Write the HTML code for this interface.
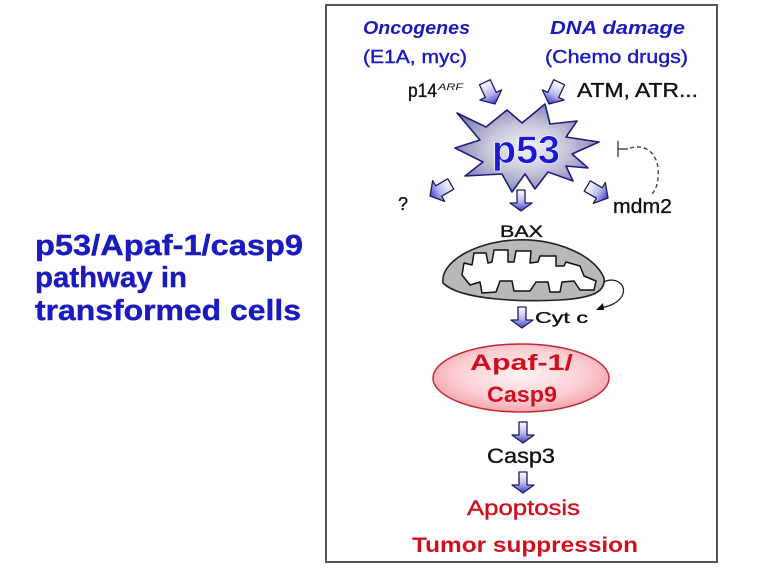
<!DOCTYPE html>
<html><head><meta charset="utf-8"><style>
html,body{margin:0;padding:0;background:#fff;}
svg{display:block;}
text{font-family:"Liberation Sans",sans-serif;}
</style></head><body>
<svg width="768" height="576" viewBox="0 0 768 576" xmlns="http://www.w3.org/2000/svg">
<defs>
<linearGradient id="ag" x1="0" y1="0" x2="0" y2="1">
<stop offset="0" stop-color="#ffffff"/><stop offset="0.55" stop-color="#b8b8ee"/><stop offset="1" stop-color="#3c3cc8"/>
</linearGradient>
<radialGradient id="sg" cx="0.5" cy="0.5" r="0.6">
<stop offset="0" stop-color="#f4f4fa"/><stop offset="0.45" stop-color="#c8c8dc"/><stop offset="1" stop-color="#7070a8"/>
</radialGradient>
<radialGradient id="eg" cx="0.5" cy="0.45" r="0.6">
<stop offset="0" stop-color="#fff2f2"/><stop offset="0.6" stop-color="#fbd0d4"/><stop offset="1" stop-color="#f29aa4"/>
</radialGradient>
<path id="da" d="M-4,-21 L4,-21 L4,-8 L11,-8 L0,0 L-11,-8 L-4,-8 Z"/>
<path id="ba" d="M-6,-24 L6,-24 L6,-10 L12,-10 L0,0 L-12,-10 L-6,-10 Z"/>
</defs>

<!-- left title -->
<g fill="#1a1abf" font-weight="bold" font-size="29" stroke="#1a1abf" stroke-width="0.4">
<text x="35" y="255" textLength="268" lengthAdjust="spacingAndGlyphs">p53/Apaf-1/casp9</text>
<text x="35" y="287" textLength="152" lengthAdjust="spacingAndGlyphs">pathway in</text>
<text x="35" y="320" textLength="266" lengthAdjust="spacingAndGlyphs">transformed cells</text>
</g>

<!-- box -->
<rect x="326" y="5" width="391" height="557" fill="#fff" stroke="#555" stroke-width="2"/>

<!-- top labels -->
<g fill="#1a1abf" font-size="18">
<text x="363" y="34" font-weight="bold" font-style="italic" textLength="107" lengthAdjust="spacingAndGlyphs">Oncogenes</text>
<text x="363" y="63" stroke="#1a1abf" stroke-width="0.4" textLength="104" lengthAdjust="spacingAndGlyphs">(E1A, myc)</text>
<text x="550" y="34" font-weight="bold" font-style="italic" textLength="135" lengthAdjust="spacingAndGlyphs">DNA damage</text>
<text x="545" y="63" stroke="#1a1abf" stroke-width="0.4" textLength="143" lengthAdjust="spacingAndGlyphs">(Chemo drugs)</text>
</g>
<g fill="#111" stroke="#111" stroke-width="0.35">
<text x="408" y="97" font-size="19" textLength="29" lengthAdjust="spacingAndGlyphs">p14</text>
<text x="438" y="90" font-size="9" stroke-width="0" font-style="italic" textLength="25" lengthAdjust="spacingAndGlyphs">ARF</text>
<text x="577" y="97" font-size="20" textLength="121" lengthAdjust="spacingAndGlyphs">ATM, ATR...</text>
<text x="398" y="210" font-size="18">?</text>
<text x="613" y="213" font-size="20" textLength="59" lengthAdjust="spacingAndGlyphs">mdm2</text>
<text x="500" y="237" font-size="17" textLength="43" lengthAdjust="spacingAndGlyphs">BAX</text>
<text x="535" y="323" font-size="16" textLength="53" lengthAdjust="spacingAndGlyphs">Cyt c</text>
<text x="487" y="463" font-size="21" textLength="68" lengthAdjust="spacingAndGlyphs">Casp3</text>
</g>

<!-- input arrows -->
<g fill="url(#ag)" stroke="#1c1c5c" stroke-width="1.3" stroke-linejoin="round">
<use href="#ba" transform="translate(495,104) rotate(-25)"/>
<use href="#ba" transform="translate(549,104) rotate(25)"/>
</g>

<!-- star -->
<path d="M457,113 L486,127 L507,110 L522,123 L545,104 L550,124 L577,121 L566,137 L599,142 L572,154 L588,168 L566,166 L573,181 L548,172 L535,189 L525,174 L512,192 L502,174 L465,176 L483,162 L455,148 L480,140 Z" fill="url(#sg)" stroke="#1e1e80" stroke-width="1.6" stroke-linejoin="round"/>
<text x="526" y="163" font-size="39" font-weight="bold" fill="#1a1ad0" stroke="#ffffff" stroke-width="0.6" text-anchor="middle" textLength="68" lengthAdjust="spacingAndGlyphs">p53</text>

<!-- output arrows -->
<g fill="url(#ag)" stroke="#1c1c5c" stroke-width="1.3" stroke-linejoin="round">
<use href="#ba" transform="translate(430,196) rotate(60)"/>
<use href="#ba" transform="translate(608,198) rotate(-60)"/>
<use href="#da" transform="translate(521,211)"/>
<use href="#da" transform="translate(522,328)"/>
<use href="#da" transform="translate(523,443)"/>
<use href="#da" transform="translate(523,493)"/>
</g>

<!-- inhibition -->
<g stroke="#444" stroke-width="1.4" fill="none">
<line x1="618" y1="141" x2="618" y2="157"/>
<line x1="618" y1="149" x2="628" y2="149"/>
<path d="M630,148 C645,144 656,152 658,168 C659,180 657,188 652,194" stroke-dasharray="4,3"/>
</g>

<!-- mitochondrion -->
<path d="M443,283 C440,262 475,242 515,240 C555,238 595,255 604,278 C606,293 590,298 560,300 C520,302 460,300 443,283 Z" fill="#b8b8b8" stroke="#222" stroke-width="1.6"/>
<path d="M462,275 L464,263 L472,265 L474,253 L486,253 L488,263 L492,262 L494,250 L508,250 L508,262 L514,262 L516,251 L531,251 L530,263 L538,262 L540,256 L556,256 L556,266 L564,266 L566,262 L580,266 L584,276 L596,281 L594,290 L580,290 L574,281 L562,282 L560,292 L550,292 L548,282 L536,282 L530,291 L514,291 L512,281 L500,281 L496,292 L482,293 L480,282 L470,285 Z" fill="#fff" stroke="#111" stroke-width="1.5" stroke-linejoin="round"/>
<path d="M604,282 C615,276 628,285 622,296 C618,303 610,306 601,308" fill="none" stroke="#222" stroke-width="1.3"/>
<path d="M596,310 L603,303 L604,310 Z" fill="#111"/>

<!-- Apaf ellipse -->
<ellipse cx="521" cy="378" rx="88" ry="34" fill="url(#eg)" stroke="#c02838" stroke-width="1.5"/>
<g fill="#d0101e" font-weight="bold" font-size="22">
<text x="470" y="370" textLength="103" lengthAdjust="spacingAndGlyphs">Apaf-1/</text>
<text x="487" y="402" textLength="70" lengthAdjust="spacingAndGlyphs">Casp9</text>
</g>

<!-- bottom -->
<g fill="#d0101e" font-size="21">
<text x="467" y="515" stroke="#d0101e" stroke-width="0.4" textLength="113" lengthAdjust="spacingAndGlyphs">Apoptosis</text>
<text x="412" y="552" font-weight="bold" textLength="226" lengthAdjust="spacingAndGlyphs">Tumor suppression</text>
</g>
</svg>
</body></html>
